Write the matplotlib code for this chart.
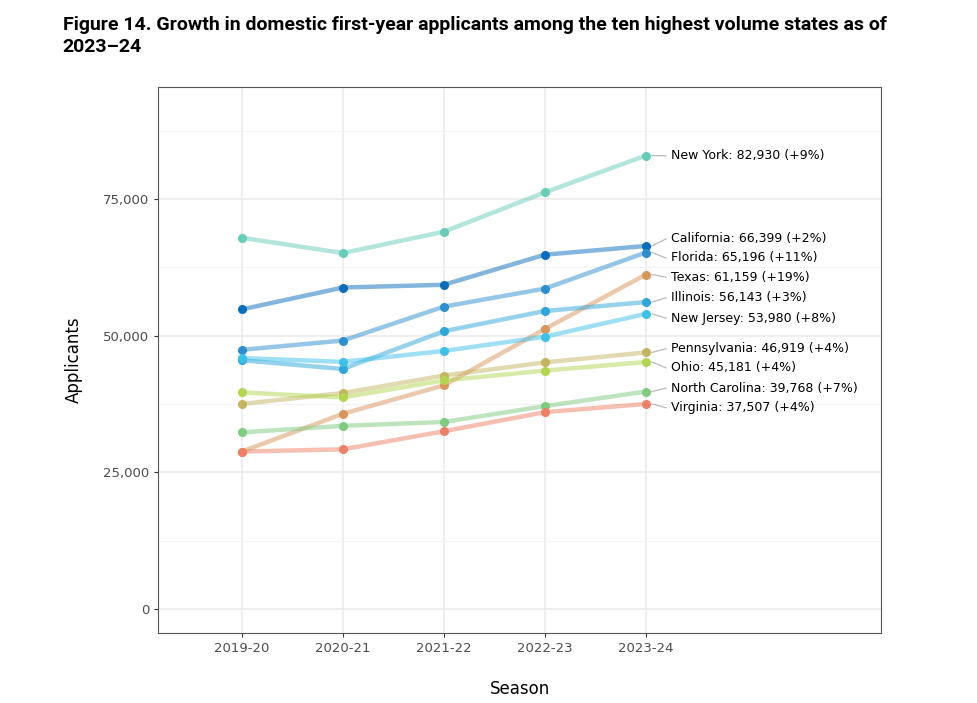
import matplotlib
matplotlib.use("Agg")
import matplotlib.pyplot as plt
from matplotlib.ticker import MultipleLocator, FuncFormatter

seasons = ["2019-20", "2020-21", "2021-22", "2022-23", "2023-24"]
states = ["New York", "California", "Florida", "Texas", "Illinois", "New Jersey",
          "Pennsylvania", "Ohio", "North Carolina", "Virginia"]
new_york = [67900, 65100, 69000, 76200, 82930]
california = [54800, 58800, 59300, 64800, 66399]
florida = [47400, 49100, 55300, 58600, 65196]
texas = [28800, 35700, 40900, 51200, 61159]
illinois = [45500, 43900, 50800, 54500, 56143]
new_jersey = [45900, 45200, 47200, 49800, 53980]
pennsylvania = [37500, 39500, 42700, 45100, 46919]
ohio = [39600, 38700, 41800, 43600, 45181]
north_carolina = [32300, 33500, 34200, 37100, 39768]
virginia = [28800, 29200, 32500, 36000, 37507]
growth = ["+9%", "+2%", "+11%", "+19%", "+3%", "+8%", "+4%", "+4%", "+7%", "+4%"]

series = [new_york, california, florida, texas, illinois, new_jersey,
          pennsylvania, ohio, north_carolina, virginia]
colors = ["#66CDB8", "#0A6EBD", "#2E8FD0", "#D9955A", "#2EA6DA", "#3EC1E8",
          "#C4B560", "#B3D650", "#7FCB80", "#EE8066"]
# where the repelled labels sit (y, data units)
label_y = [82900, 67700, 64200, 60700, 56900, 53200, 47600, 44100, 40400, 36800]

fig = plt.figure(figsize=(9.78, 7.03), dpi=100)
ax = fig.add_axes([0.1616, 0.0996, 0.7393, 0.7766])

x = list(range(len(seasons)))
for vals, c in zip(series, colors):
    ax.plot(x, vals, color=c, lw=3.2, alpha=0.5, solid_capstyle="round", zorder=3)
    ax.plot(x, vals, "o", color=c, ms=5.5, zorder=4)

for name, vals, g, ly in zip(states, series, growth, label_y):
    ax.plot([4.06, 4.2], [vals[-1], ly], color="#BBBBBB", lw=0.9, zorder=2)
    ax.text(4.25, ly, f"{name}: {vals[-1]:,} ({g})", fontsize=9, va="center",
            ha="left", color="black")

ax.set_xlim(-0.83, 6.33)
ax.set_ylim(-4390, 95470)
ax.set_xticks(x)
ax.set_xticklabels(seasons)
ax.yaxis.set_major_locator(MultipleLocator(25000))
ax.yaxis.set_minor_locator(MultipleLocator(12500))
ax.yaxis.set_major_formatter(FuncFormatter(lambda v, p: f"{int(v):,}"))
ax.grid(True, which="major", color="#EBEBEB", lw=1.1, zorder=0)
ax.grid(True, which="minor", axis="y", color="#F3F3F3", lw=0.8, zorder=0)
ax.set_axisbelow(True)
ax.tick_params(which="major", length=3, color="#333333", labelsize=9.5,
               labelcolor="#4D4D4D")
ax.tick_params(which="minor", length=0)
for s in ax.spines.values():
    s.set_color("#555555")
    s.set_linewidth(0.8)

ax.set_xlabel("Season", fontsize=12, labelpad=18)
ax.set_ylabel("Applicants", fontsize=12, labelpad=14)

fig.text(0.064, 0.977, "Figure 14. Growth in domestic first-year applicants among the ten highest volume states as of\n2023\u201324",
         fontsize=14, fontweight="bold", family=["Roboto", "DejaVu Sans"],
         va="top", ha="left", linespacing=1.25)

fig.savefig("out.png", dpi=100)
